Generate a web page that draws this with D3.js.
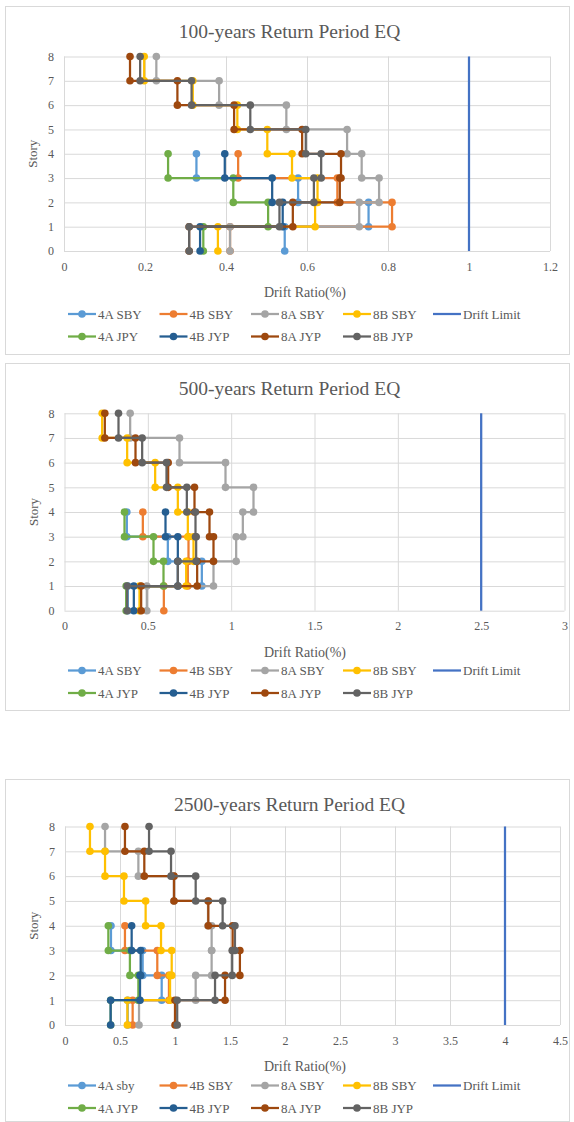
<!DOCTYPE html>
<html><head><meta charset="utf-8">
<script src="https://cdn.jsdelivr.net/npm/d3@7"></script>
<style>
html,body{margin:0;padding:0;background:#fff;}
svg{display:block;}
text{font-family:"Liberation Serif","Times New Roman",serif;fill:#595959;}
</style></head>
<body><svg id="c" width="574" height="1122"></svg>
<script>
// ---------- data ----------
const stories = [0,1,2,3,4,5,6,7,8];
const seriesKeys = ["4A SBY","4B SBY","8A SBY","8B SBY","Drift Limit","4A JYP","4B JYP","8A JYP","8B JYP"];
const legend100  = ["4A SBY","4B SBY","8A SBY","8B SBY","Drift Limit","4A JPY","4B JYP","8A JYP","8B JYP"];
const legend500  = ["4A SBY","4B SBY","8A SBY","8B SBY","Drift Limit","4A JYP","4B JYP","8A JYP","8B JYP"];
const legend2500 = ["4A sby","4B SBY","8A SBY","8B SBY","Drift Limit","4A JYP","4B JYP","8A JYP","8B JYP"];
const titles = ["100-years Return Period EQ","500-years Return Period EQ","2500-years Return Period EQ"];
const xTicks100  = ["0","0.2","0.4","0.6","0.8","1","1.2"];
const xTicks500  = ["0","0.5","1","1.5","2","2.5","3"];
const xTicks2500 = ["0","0.5","1","1.5","2","2.5","3","3.5","4","4.5"];
const driftLimits = [1, 2.5, 4];
const xAxisTitle = "Drift Ratio(%)";
const yAxisTitle = "Story";

// story drift per storey (story i to i+1), 100-years
const d100_4A_SBY = [0.545, 0.752, 0.578, 0.327];
const d100_4B_SBY = [0.41, 0.81, 0.675, 0.43];
const d100_8A_SBY = [0.41, 0.729, 0.778, 0.735, 0.699, 0.549, 0.383, 0.228];
const d100_8B_SBY = [0.38, 0.62, 0.626, 0.563, 0.502, 0.428, 0.318, 0.198];
const d100_4A_JYP = [0.344, 0.504, 0.418, 0.257];
const d100_4B_JYP = [0.336, 0.54, 0.514, 0.397];
const d100_8A_JYP = [0.309, 0.565, 0.681, 0.684, 0.588, 0.42, 0.28, 0.163];
const d100_8B_JYP = [0.309, 0.532, 0.617, 0.635, 0.597, 0.46, 0.315, 0.188];
// 500-years
const d500_4A_SBY = [0.38, 0.824, 0.62, 0.374];
const d500_4B_SBY = [0.596, 0.74, 0.744, 0.47];
const d500_8A_SBY = [0.494, 0.894, 1.03, 1.07, 1.134, 0.966, 0.69, 0.394];
const d500_8B_SBY = [0.45, 0.73, 0.774, 0.74, 0.68, 0.544, 0.376, 0.226];
const d500_4A_JYP = [0.37, 0.594, 0.534, 0.36];
const d500_4B_JYP = [0.416, 0.68, 0.68, 0.606];
const d500_8A_JYP = [0.46, 0.796, 0.894, 0.87, 0.78, 0.622, 0.426, 0.242];
const d500_8B_JYP = [0.376, 0.68, 0.79, 0.786, 0.734, 0.612, 0.466, 0.324];
// 2500-years
const d2500_4A_SBY = [0.57, 0.879, 0.706, 0.418];
const d2500_4B_SBY = [0.615, 0.945, 0.839, 0.545];
const d2500_8A_SBY = [0.673, 1.188, 1.333, 1.333, 1.30, 0.99, 0.667, 0.364];
const d2500_8B_SBY = [0.567, 0.955, 0.97, 0.873, 0.733, 0.536, 0.364, 0.227];
const d2500_4A_JYP = [0.415, 0.667, 0.59, 0.394];
const d2500_4B_JYP = [0.415, 0.682, 0.688, 0.606];
const d2500_8A_JYP = [1.0, 1.455, 1.59, 1.524, 1.303, 0.991, 0.721, 0.545];
const d2500_8B_JYP = [1.02, 1.364, 1.52, 1.545, 1.433, 1.188, 0.964, 0.764];

// ---------- style / layout ----------
const colors = ["#5B9BD5","#ED7D31","#A5A5A5","#FFC000","#4472C4","#70AD47","#255E91","#9E480E","#636363"];
const charts = [
  {title:titles[0], legend:legend100, ticks:xTicks100, limit:driftLimits[0],
   data:[d100_4A_SBY,d100_4B_SBY,d100_8A_SBY,d100_8B_SBY,null,d100_4A_JYP,d100_4B_JYP,d100_8A_JYP,d100_8B_JYP],
   frame:[5.5,6.5,569.5,354.5], plot:{l:64,r:550,t:56.5,b:251}, legY:314},
  {title:titles[1], legend:legend500, ticks:xTicks500, limit:driftLimits[1],
   data:[d500_4A_SBY,d500_4B_SBY,d500_8A_SBY,d500_8B_SBY,null,d500_4A_JYP,d500_4B_JYP,d500_8A_JYP,d500_8B_JYP],
   frame:[5.5,363.5,569.5,710.5], plot:{l:64.5,r:564.5,t:413.3,b:610.7}, legY:670.5},
  {title:titles[2], legend:legend2500, ticks:xTicks2500, limit:driftLimits[2],
   data:[d2500_4A_SBY,d2500_4B_SBY,d2500_8A_SBY,d2500_8B_SBY,null,d2500_4A_JYP,d2500_4B_JYP,d2500_8A_JYP,d2500_8B_JYP],
   frame:[5.5,779.5,569.5,1121.5], plot:{l:65,r:560,t:826.5,b:1025}, legY:1085.5}
];

const svg = d3.select("#c");

charts.forEach(ch => {
  const g = svg.append("g");
  const [fx0,fy0,fx1,fy1] = ch.frame;
  g.append("rect").attr("x",fx0).attr("y",fy0).attr("width",fx1-fx0).attr("height",fy1-fy0)
    .attr("fill","#fff").attr("stroke","#D9D9D9").attr("stroke-width",1);

  const p = ch.plot;
  const tickVals = ch.ticks.map(Number);
  const x = d3.scaleLinear().domain([0, tickVals[tickVals.length-1]]).range([p.l, p.r]);
  const y = d3.scaleLinear().domain([0, 8]).range([p.b, p.t]);

  // title
  g.append("text").attr("x",(fx0+fx1)/2+2).attr("y",fy0+31)
    .attr("text-anchor","middle").attr("font-size","19.5px").text(ch.title);

  // x axis + vertical gridlines
  const xa = g.append("g").attr("transform",`translate(0,${p.b})`)
    .call(d3.axisBottom(x).tickValues(tickVals).tickFormat((d,i)=>ch.ticks[i])
      .tickSize(-(p.b-p.t)).tickPadding(11));
  xa.select(".domain").remove();
  xa.selectAll("line").attr("stroke","#D9D9D9").attr("stroke-width",1);
  xa.selectAll("text").attr("font-size","12px").attr("fill","#595959")
    .attr("font-family","Liberation Serif, serif");

  // y axis + horizontal gridlines
  const ya = g.append("g").attr("transform",`translate(${p.l},0)`)
    .call(d3.axisLeft(y).tickValues(stories).tickFormat(d3.format("d"))
      .tickSize(-(p.r-p.l)).tickPadding(10));
  ya.select(".domain").remove();
  ya.selectAll("line").attr("stroke","#D9D9D9").attr("stroke-width",1);
  ya.selectAll("text").attr("font-size","12px").attr("fill","#595959")
    .attr("font-family","Liberation Serif, serif");

  // axis titles
  g.append("text").attr("x",305).attr("y",p.b+46)
    .attr("text-anchor","middle").attr("font-size","14px").text(xAxisTitle);
  g.append("text").attr("transform",`translate(${p.l-27},${(p.t+p.b)/2}) rotate(-90)`)
    .attr("text-anchor","middle").attr("font-size","13px").text(yAxisTitle);

  const line = d3.line().x(d=>x(d[0])).y(d=>y(d[1]));

  // series
  seriesKeys.forEach((k,si) => {
    const col = colors[si];
    if (k === "Drift Limit") {
      g.append("path").attr("d", line([[ch.limit,0],[ch.limit,8]]))
        .attr("fill","none").attr("stroke",col).attr("stroke-width",2.25);
      return;
    }
    const vals = ch.data[si];
    const pts = [];
    vals.forEach((v,i) => { pts.push([v, stories[i]]); pts.push([v, stories[i+1]]); });
    g.append("path").attr("d", line(pts)).attr("fill","none")
      .attr("stroke",col).attr("stroke-width",2.25).attr("stroke-linejoin","round");
    g.selectAll(null).data(pts).enter().append("circle")
      .attr("cx",d=>x(d[0])).attr("cy",d=>y(d[1])).attr("r",3.8).attr("fill",col);
  });

  // legend
  const legY1 = ch.legY, legY2 = legY1 + 22.5;
  const itemX = [68,159.5,251,343,433];
  ch.legend.forEach((name,i) => {
    const row = i < 5 ? 0 : 1;
    const col = i < 5 ? i : i - 5;
    const lx = itemX[col], ly = row === 0 ? legY1 : legY2;
    const lg = g.append("g");
    lg.append("line").attr("x1",lx).attr("x2",lx+28).attr("y1",ly).attr("y2",ly)
      .attr("stroke",colors[i]).attr("stroke-width",2.25);
    if (name !== "Drift Limit") {
      lg.append("circle").attr("cx",lx+14).attr("cy",ly).attr("r",3.8).attr("fill",colors[i]);
    }
    lg.append("text").attr("x",lx+30).attr("y",ly+4.5).attr("font-size","13px").text(name);
  });
});
</script>
</body></html>
